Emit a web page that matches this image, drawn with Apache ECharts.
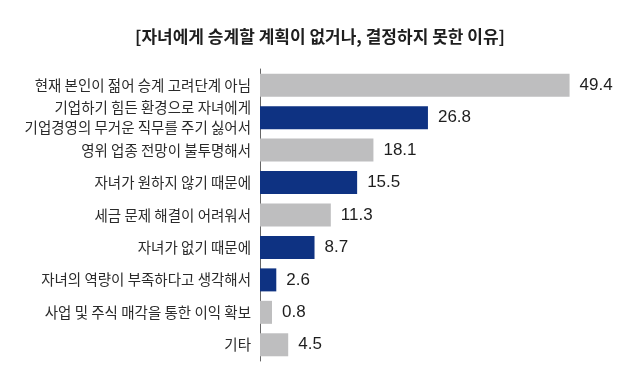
<!DOCTYPE html>
<html>
<head>
<meta charset="utf-8">
<script src="https://cdn.jsdelivr.net/npm/echarts@6/dist/echarts.min.js"></script>
<style>
  html, body { margin: 0; padding: 0; background: #ffffff; }
  #chart { width: 640px; height: 379px; }
</style>
</head>
<body>
<div id="chart"></div>
<script>
const titleText = '[자녀에게 승계할 계획이 없거나, 결정하지 못한 이유]';
const categories = [
  '현재 본인이 젊어 승계 고려단계 아님',
  '기업하기 힘든 환경으로 자녀에게\n기업경영의 무거운 직무를 주기 싫어서',
  '영위 업종 전망이 불투명해서',
  '자녀가 원하지 않기 때문에',
  '세금 문제 해결이 어려워서',
  '자녀가 없기 때문에',
  '자녀의 역량이 부족하다고 생각해서',
  '사업 및 주식 매각을 통한 이익 확보',
  '기타'
];
const values = [49.4, 26.8, 18.1, 15.5, 11.3, 8.7, 2.6, 0.8, 4.5];
const highlighted = [false, true, false, true, false, true, true, false, false];

const GRAY = '#bebebf';
const NAVY = '#0e3282';

const chart = echarts.init(document.getElementById('chart'));
chart.setOption({
  backgroundColor: '#ffffff',
  animation: false,
  title: {
    text: titleText,
    left: 'center',
    top: 23,
    textStyle: {
      fontFamily: 'Noto Sans CJK KR',
      fontSize: 17,
      fontWeight: 'bold',
      color: '#1e1e1e'
    }
  },
  grid: { left: 260, top: 69, width: 376, height: 292, containLabel: false },
  xAxis: {
    type: 'value',
    min: 0,
    max: 60,
    show: false
  },
  yAxis: {
    type: 'category',
    data: categories,
    inverse: true,
    axisTick: { show: false },
    axisLine: { show: true, lineStyle: { color: '#666666', width: 1 } },
    axisLabel: {
      margin: 9,
      fontFamily: 'Noto Sans CJK KR',
      fontSize: 14.5,
      color: '#2a2a2a',
      lineHeight: 20,
      align: 'right'
    }
  },
  series: [{
    type: 'bar',
    barWidth: 23,
    barMinHeight: 12,
    data: values.map((v, i) => ({
      value: v,
      itemStyle: { color: highlighted[i] ? NAVY : GRAY }
    })),
    label: {
      show: true,
      position: 'right',
      distance: 10,
      fontFamily: 'Liberation Sans',
      fontSize: 17,
      color: '#1e1e1e',
      formatter: p => p.value.toFixed(1)
    }
  }]
});
</script>
</body>
</html>
